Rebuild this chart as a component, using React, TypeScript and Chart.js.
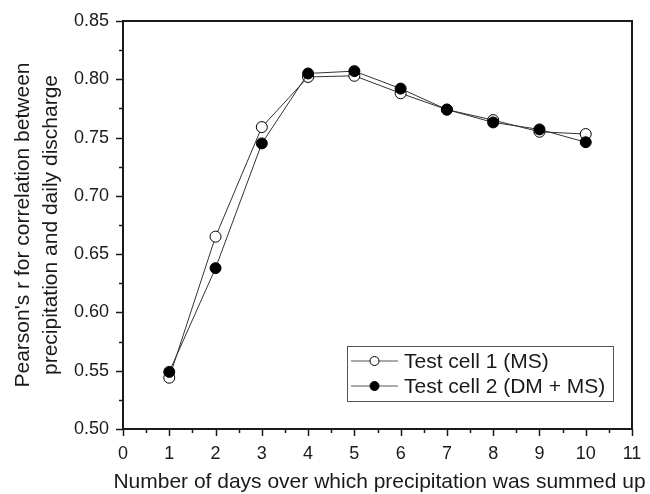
import React, { useEffect, useRef } from "react";
import { Chart, registerables } from "chart.js";

Chart.register(...registerables);

const days = [1, 2, 3, 4, 5, 6, 7, 8, 9, 10];
const cell1 = [0.544, 0.665, 0.759, 0.802, 0.803, 0.788, 0.774, 0.765, 0.755, 0.753];
const cell2 = [0.549, 0.638, 0.745, 0.805, 0.807, 0.792, 0.774, 0.763, 0.757, 0.746];
const seriesNames = ["Test cell 1 (MS)", "Test cell 2 (DM + MS)"];
const xTitle = "Number of days over which precipitation was summed up";
const yTitle = ["Pearson's r for correlation between", "precipitation and daily discharge"];

const FONT = "'Liberation Sans', Arial, sans-serif";
const INK = "#1a1a1a";

const decorPlugin = {
  id: "decor",
  afterDraw(chart: any) {
    const ctx = chart.ctx;
    const ca = chart.chartArea;
    const xs = chart.scales.x;
    const ys = chart.scales.y;
    ctx.save();
    ctx.strokeStyle = INK;
    ctx.lineWidth = 2;
    // box top and right
    ctx.beginPath();
    ctx.moveTo(ca.left, ca.top);
    ctx.lineTo(ca.right, ca.top);
    ctx.lineTo(ca.right, ca.bottom);
    ctx.stroke();
    // ticks
    ctx.lineWidth = 1.5;
    for (let i = 0; i <= 22; i++) {
      const v = i * 0.5;
      const px = Math.round(xs.getPixelForValue(v)) + 0.5;
      const len = i % 2 === 0 ? 7 : 4;
      ctx.beginPath();
      ctx.moveTo(px, ca.bottom);
      ctx.lineTo(px, ca.bottom + len);
      ctx.stroke();
    }
    for (let i = 0; i <= 14; i++) {
      const v = 0.5 + i * 0.025;
      const py = Math.round(ys.getPixelForValue(v)) + 0.5;
      const len = i % 2 === 0 ? 7 : 4;
      ctx.beginPath();
      ctx.moveTo(ca.left, py);
      ctx.lineTo(ca.left - len, py);
      ctx.stroke();
    }
    // axis titles
    ctx.fillStyle = INK;
    ctx.font = `21px ${FONT}`;
    ctx.textAlign = "center";
    ctx.textBaseline = "middle";
    ctx.fillText(xTitle, (ca.left + ca.right) / 2 + 2, 482);
    ctx.save();
    ctx.translate(23, (ca.top + ca.bottom) / 2);
    ctx.rotate(-Math.PI / 2);
    ctx.fillText(yTitle[0], 0, 0);
    ctx.fillText(yTitle[1], 0, 28);
    ctx.restore();
    // legend
    const lx = 347, ly = 346, lw = 266, lh = 55;
    ctx.lineWidth = 1;
    ctx.strokeStyle = "#555";
    ctx.strokeRect(lx + 0.5, ly + 0.5, lw, lh);
    const rows = [ly + 15, ly + 40];
    ctx.font = `21px ${FONT}`;
    ctx.textAlign = "left";
    rows.forEach((ry, k) => {
      ctx.strokeStyle = "#555";
      ctx.lineWidth = 1;
      ctx.beginPath();
      ctx.moveTo(351, ry);
      ctx.lineTo(398, ry);
      ctx.stroke();
      ctx.beginPath();
      ctx.arc(374.5, ry, 4.5, 0, Math.PI * 2);
      ctx.fillStyle = k === 0 ? "#fff" : "#000";
      ctx.fill();
      ctx.strokeStyle = "#000";
      ctx.stroke();
      ctx.fillStyle = INK;
      ctx.fillText(seriesNames[k], 404, ry + 1);
    });
    ctx.restore();
  },
};

const fixPad = (s: any) => {
  s.paddingLeft = 0;
  s.paddingRight = 0;
  s.paddingTop = 0;
  s.paddingBottom = 0;
};

export default function App() {
  const ref = useRef<HTMLCanvasElement>(null);
  useEffect(() => {
    const chart = new Chart(ref.current!, {
      type: "line",
      data: {
        datasets: [
          {
            label: seriesNames[0],
            data: days.map((d, i) => ({ x: d, y: cell1[i] })),
            borderColor: "#333",
            borderWidth: 1,
            pointRadius: 5.5,
            pointBackgroundColor: "#fff",
            pointBorderColor: "#000",
            pointBorderWidth: 1,
            order: 1,
          },
          {
            label: seriesNames[1],
            data: days.map((d, i) => ({ x: d, y: cell2[i] })),
            borderColor: "#333",
            borderWidth: 1,
            pointRadius: 5.5,
            pointBackgroundColor: "#000",
            pointBorderColor: "#000",
            pointBorderWidth: 1,
            order: 0,
          },
        ],
      },
      options: {
        animation: false,
        responsive: false,
        layout: { padding: { top: 21, right: 18, left: 0, bottom: 0 } },
        plugins: { legend: { display: false }, tooltip: { enabled: false } },
        scales: {
          x: {
            type: "linear",
            min: 0,
            max: 11,
            ticks: { stepSize: 1, padding: 14, color: INK, font: { family: FONT, size: 18 } },
            grid: { display: true, drawOnChartArea: false, drawTicks: false },
            border: { display: true, color: INK, width: 2 },
            afterFit: (s: any) => { s.height = 65; fixPad(s); },
          },
          y: {
            type: "linear",
            min: 0.5,
            max: 0.85,
            ticks: {
              stepSize: 0.05,
              padding: 14,
              color: INK,
              font: { family: FONT, size: 18 },
              callback: (v: any) => Number(v).toFixed(2),
            },
            grid: { display: true, drawOnChartArea: false, drawTicks: false },
            border: { display: true, color: INK, width: 2 },
            afterFit: (s: any) => { s.width = 123; fixPad(s); },
          },
        },
      },
      plugins: [decorPlugin],
    } as any);
    return () => chart.destroy();
  }, []);
  return (
    <div style={{ position: "fixed", left: 0, top: 0, width: 650, height: 494, background: "#fff" }}>
      <canvas ref={ref} width={650} height={494} />
    </div>
  );
}
